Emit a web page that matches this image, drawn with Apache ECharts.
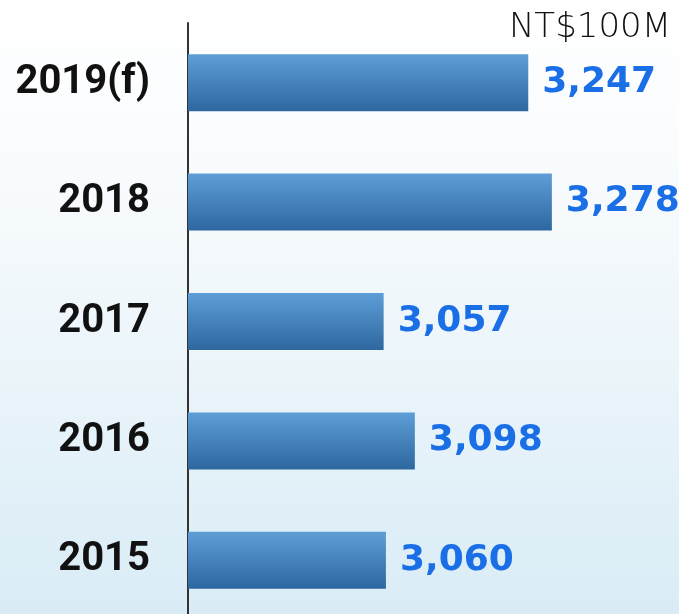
<!DOCTYPE html>
<html>
<head>
<meta charset="utf-8">
<script src="https://cdn.jsdelivr.net/npm/echarts@6/dist/echarts.min.js"></script>
<style>
html,body{margin:0;padding:0;}
#c{width:679px;height:614px;}
</style>
</head>
<body>
<div id="c"></div>
<script>
const categories = ['2015', '2016', '2017', '2018', '2019(f)'];
const values = [3060, 3098, 3057, 3278, 3247];
const unitLabel = 'NT$100M';

const chart = echarts.init(document.getElementById('c'));
chart.setOption({
  backgroundColor: {
    type: 'linear', x: 0, y: 0, x2: 0, y2: 1,
    colorStops: [
      {offset: 0, color: '#ffffff'},
      {offset: 0.3, color: '#f8fbfd'},
      {offset: 1, color: '#d9ecf6'}
    ]
  },
  animation: false,
  title: {
    text: unitLabel,
    right: 3, top: 6,
    textStyle: {fontFamily: 'DejaVu Sans', fontWeight: 200, fontSize: 34, color: '#111'}
  },
  grid: {left: 188, top: 23, width: 491, height: 597, containLabel: false, outerBoundsMode: 'none'},
  xAxis: {
    type: 'value', min: 2800, max: 3445,
    show: false
  },
  yAxis: {
    type: 'category', data: categories,
    axisLine: {show: true, lineStyle: {color: '#333', width: 2}},
    axisTick: {show: false},
    axisLabel: {
      margin: 38,
      fontFamily: 'Roboto', fontWeight: 'bold', fontSize: 40, color: '#111'
    },
    splitLine: {show: false}
  },
  series: [{
    type: 'bar',
    data: values,
    barWidth: 57,
    itemStyle: {
      color: {
        type: 'linear', x: 0, y: 0, x2: 0, y2: 1,
        colorStops: [
          {offset: 0, color: '#5e9ed6'},
          {offset: 1, color: '#2d67a0'}
        ]
      }
    },
    label: {
      show: true, position: 'right', distance: 14,
      formatter: p => p.value.toLocaleString('en-US'),
      fontFamily: 'DejaVu Sans', fontWeight: 'bold', fontSize: 36, color: '#1a6fe6'
    }
  }]
});
</script>
</body>
</html>
